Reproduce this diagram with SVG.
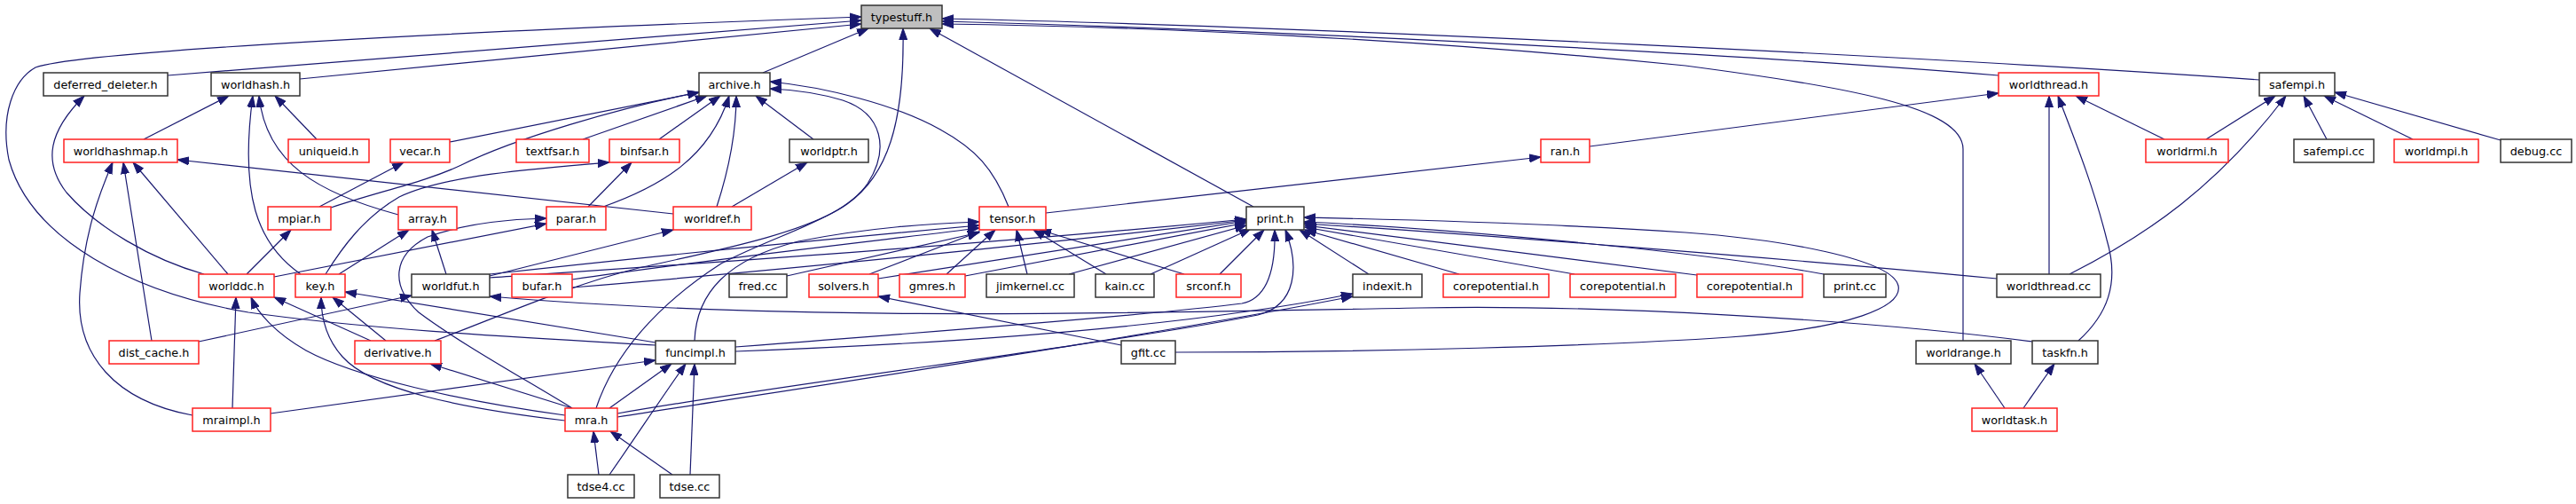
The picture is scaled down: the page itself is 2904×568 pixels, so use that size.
<svg xmlns="http://www.w3.org/2000/svg" width="2904" height="568" viewBox="0 0 2904 568">
<defs>
<marker id="a" markerUnits="userSpaceOnUse" markerWidth="14" markerHeight="10" refX="13" refY="5" orient="auto"><path d="M0,0.5 L13,5 L0,9.5 z" fill="#191970" stroke="#191970" stroke-width="1"/></marker>
<style>
.e path{fill:none;stroke:#191970;stroke-width:1.2;marker-end:url(#a)}
.node rect{fill:#fff;stroke-width:1.5}
.k rect{stroke:#333}
.r rect{stroke:#ff2020}
.g rect{fill:#bfbfbf;stroke:#333}
.node text{font-family:"DejaVu Sans",sans-serif;font-size:12.8px;fill:#000;text-anchor:middle}
</style>
</defs>
<rect width="2904" height="568" fill="#fff"/>
<g id="edges" class="e">
<path d="M189,85 L971,23"/>
<path d="M338,89 L971,27"/>
<path d="M739,389 C600,381 420,372 280,352 C150,330 35,270 10,180 C0,130 15,90 40,76 C90,58 500,36 971,19"/>
<path d="M860,82 L979,32"/>
<path d="M1413,233 L1048,32"/>
<path d="M2547,90 C2200,66 1500,30 1062,21"/>
<path d="M2253,85 C2000,64 1500,36 1062,24"/>
<path d="M2213,384 L2213,168 C2213,120 2080,98 1900,74 C1600,44 1300,30 1062,27"/>
<path d="M490,384 C560,358 640,322 720,302 C810,282 910,262 955,230 C1000,198 1020,140 1018,32"/>
<path d="M672,460 C692,400 740,344 813,297 C880,262 950,247 978,207 C1003,168 995,128 950,113 C920,104 890,101 868,100"/>
<path d="M1137,233 C1120,190 1100,168 1060,146 C1010,118 930,98 868,92"/>
<path d="M657,157 L797,108"/>
<path d="M743,157 L812,108"/>
<path d="M680,233 C745,210 800,178 822,108"/>
<path d="M808,233 C822,190 830,150 830,108"/>
<path d="M917,157 L852,108"/>
<path d="M507,160 L788,104"/>
<path d="M373,234 C430,215 480,205 520,186 C580,156 700,121 788,104"/>
<path d="M367,309 C385,280 410,245 450,222 C500,198 600,190 687,183"/>
<path d="M759,241 L200,180"/>
<path d="M162,157 L258,108"/>
<path d="M339,309 C290,275 270,220 285,108"/>
<path d="M449,242 C360,218 300,185 292,108"/>
<path d="M357,157 L310,108"/>
<path d="M360,233 L455,183"/>
<path d="M278,309 L328,259"/>
<path d="M257,309 L150,183"/>
<path d="M171,384 L139,183"/>
<path d="M217,468 C130,452 85,400 90,330 C95,262 112,218 127,183"/>
<path d="M230,309 C170,292 110,257 75,217 C48,182 55,148 95,108"/>
<path d="M309,312 C400,295 500,275 616,252"/>
<path d="M645,460 C600,432 520,388 472,352 C440,322 442,288 482,267 C530,250 580,247 616,246"/>
<path d="M382,309 L461,259"/>
<path d="M503,309 L487,259"/>
<path d="M552,311 L759,259"/>
<path d="M224,385 L464,333"/>
<path d="M2291,385 C2100,360 1800,343 1600,347 C1300,352 900,364 552,334"/>
<path d="M418,384 L309,335"/>
<path d="M435,384 L375,335"/>
<path d="M262,460 L266,335"/>
<path d="M637,468 C520,452 400,425 345,395 C310,375 290,352 283,335"/>
<path d="M637,474 C520,460 420,440 386,402 C368,382 362,358 362,335"/>
<path d="M739,386 L389,329"/>
<path d="M305,466 L739,406"/>
<path d="M687,460 L757,410"/>
<path d="M687,535 C715,495 748,445 773,410"/>
<path d="M778,535 L783,410"/>
<path d="M675,535 L669,486"/>
<path d="M758,535 L688,486"/>
<path d="M645,460 L485,410"/>
<path d="M829,391 C1000,378 1300,355 1400,342 C1430,336 1438,300 1437,259"/>
<path d="M829,396 C1100,386 1350,366 1525,331"/>
<path d="M696,466 C900,430 1250,388 1418,355 C1462,344 1465,300 1449,259"/>
<path d="M696,470 C950,430 1300,378 1525,334"/>
<path d="M1325,397 C1550,397 1800,390 1950,380 C2090,370 2145,345 2140,322 C2133,292 2010,270 1900,262 C1720,250 1560,247 1470,245"/>
<path d="M1264,389 L990,334"/>
<path d="M1335,309 L1172,259"/>
<path d="M1375,309 L1425,259"/>
<path d="M1247,309 L1165,259"/>
<path d="M1297,309 L1410,258"/>
<path d="M1158,309 L1146,259"/>
<path d="M1205,309 L1405,254"/>
<path d="M1067,309 L1122,259"/>
<path d="M1088,311 L1405,251"/>
<path d="M980,309 L1104,261"/>
<path d="M990,314 L1405,249"/>
<path d="M887,311 L1104,262"/>
<path d="M645,315 C800,292 1000,270 1104,257"/>
<path d="M645,324 C900,303 1200,272 1405,248"/>
<path d="M552,309 C750,287 950,268 1104,254"/>
<path d="M552,313 C800,296 1100,276 1405,247"/>
<path d="M783,384 C785,330 820,292 900,272 C980,256 1050,252 1104,250"/>
<path d="M1645,309 L1471,259"/>
<path d="M1775,309 L1471,256"/>
<path d="M1913,310 L1471,254"/>
<path d="M2056,309 C1900,280 1600,256 1470,250"/>
<path d="M2251,314 C2000,290 1650,263 1470,252"/>
<path d="M1543,309 L1465,259"/>
<path d="M1179,240 L1737,177"/>
<path d="M1792,165 L2253,105"/>
<path d="M2310,309 L2310,108"/>
<path d="M2343,384 C2375,355 2390,320 2375,270 C2360,210 2340,160 2320,108"/>
<path d="M2440,157 L2340,108"/>
<path d="M2487,157 L2565,108"/>
<path d="M2333,309 C2420,265 2500,210 2577,108"/>
<path d="M2623,157 L2597,108"/>
<path d="M2720,157 L2620,108"/>
<path d="M2819,158 L2632,104"/>
<path d="M2260,460 L2226,410"/>
<path d="M2281,460 L2316,410"/>
<path d="M825,233 L910,183"/>
<path d="M663,233 L712,183"/>
</g>
<g id="typestuff_h" class="node g"><rect x="971" y="6" width="91" height="26"/><text x="1016.5" y="24">typestuff.h</text></g>
<g id="deferred_deleter_h" class="node k"><rect x="49" y="82" width="140" height="26"/><text x="119" y="100">deferred_deleter.h</text></g>
<g id="worldhash_h" class="node k"><rect x="238" y="82" width="100" height="26"/><text x="288" y="100">worldhash.h</text></g>
<g id="archive_h" class="node k"><rect x="788" y="82" width="80" height="26"/><text x="828" y="100">archive.h</text></g>
<g id="worldthread_h" class="node r"><rect x="2253" y="82" width="113" height="26"/><text x="2309.5" y="100">worldthread.h</text></g>
<g id="safempi_h" class="node k"><rect x="2547" y="82" width="85" height="26"/><text x="2589.5" y="100">safempi.h</text></g>
<g id="worldhashmap_h" class="node r"><rect x="72" y="157" width="128" height="26"/><text x="136" y="175">worldhashmap.h</text></g>
<g id="uniqueid_h" class="node r"><rect x="325" y="157" width="91" height="26"/><text x="370.5" y="175">uniqueid.h</text></g>
<g id="vecar_h" class="node r"><rect x="440" y="157" width="67" height="26"/><text x="473.5" y="175">vecar.h</text></g>
<g id="textfsar_h" class="node r"><rect x="582" y="157" width="82" height="26"/><text x="623" y="175">textfsar.h</text></g>
<g id="binfsar_h" class="node r"><rect x="687" y="157" width="79" height="26"/><text x="726.5" y="175">binfsar.h</text></g>
<g id="worldptr_h" class="node k"><rect x="890" y="157" width="89" height="26"/><text x="934.5" y="175">worldptr.h</text></g>
<g id="ran_h" class="node r"><rect x="1737" y="157" width="55" height="26"/><text x="1764.5" y="175">ran.h</text></g>
<g id="worldrmi_h" class="node r"><rect x="2419" y="157" width="93" height="26"/><text x="2465.5" y="175">worldrmi.h</text></g>
<g id="safempi_cc" class="node k"><rect x="2586" y="157" width="90" height="26"/><text x="2631" y="175">safempi.cc</text></g>
<g id="worldmpi_h" class="node r"><rect x="2699" y="157" width="95" height="26"/><text x="2746.5" y="175">worldmpi.h</text></g>
<g id="debug_cc" class="node k"><rect x="2819" y="157" width="80" height="26"/><text x="2859" y="175">debug.cc</text></g>
<g id="mpiar_h" class="node r"><rect x="302" y="233" width="71" height="26"/><text x="337.5" y="251">mpiar.h</text></g>
<g id="array_h" class="node r"><rect x="449" y="233" width="66" height="26"/><text x="482" y="251">array.h</text></g>
<g id="parar_h" class="node r"><rect x="616" y="233" width="67" height="26"/><text x="649.5" y="251">parar.h</text></g>
<g id="worldref_h" class="node r"><rect x="759" y="233" width="88" height="26"/><text x="803" y="251">worldref.h</text></g>
<g id="tensor_h" class="node r"><rect x="1104" y="233" width="75" height="26"/><text x="1141.5" y="251">tensor.h</text></g>
<g id="print_h" class="node k"><rect x="1405" y="233" width="65" height="26"/><text x="1437.5" y="251">print.h</text></g>
<g id="worlddc_h" class="node r"><rect x="224" y="309" width="85" height="26"/><text x="266.5" y="327">worlddc.h</text></g>
<g id="key_h" class="node r"><rect x="333" y="309" width="56" height="26"/><text x="361" y="327">key.h</text></g>
<g id="worldfut_h" class="node k"><rect x="464" y="309" width="88" height="26"/><text x="508" y="327">worldfut.h</text></g>
<g id="bufar_h" class="node r"><rect x="577" y="309" width="68" height="26"/><text x="611" y="327">bufar.h</text></g>
<g id="fred_cc" class="node k"><rect x="822" y="309" width="65" height="26"/><text x="854.5" y="327">fred.cc</text></g>
<g id="solvers_h" class="node r"><rect x="912" y="309" width="78" height="26"/><text x="951" y="327">solvers.h</text></g>
<g id="gmres_h" class="node r"><rect x="1014" y="309" width="74" height="26"/><text x="1051" y="327">gmres.h</text></g>
<g id="jimkernel_cc" class="node k"><rect x="1112" y="309" width="99" height="26"/><text x="1161.5" y="327">jimkernel.cc</text></g>
<g id="kain_cc" class="node k"><rect x="1235" y="309" width="66" height="26"/><text x="1268" y="327">kain.cc</text></g>
<g id="srconf_h" class="node r"><rect x="1326" y="309" width="73" height="26"/><text x="1362.5" y="327">srconf.h</text></g>
<g id="indexit_h" class="node k"><rect x="1525" y="309" width="78" height="26"/><text x="1564" y="327">indexit.h</text></g>
<g id="corepotential_h_1" class="node r"><rect x="1627" y="309" width="119" height="26"/><text x="1686.5" y="327">corepotential.h</text></g>
<g id="corepotential_h_2" class="node r"><rect x="1770" y="309" width="119" height="26"/><text x="1829.5" y="327">corepotential.h</text></g>
<g id="corepotential_h_3" class="node r"><rect x="1913" y="309" width="119" height="26"/><text x="1972.5" y="327">corepotential.h</text></g>
<g id="print_cc" class="node k"><rect x="2056" y="309" width="70" height="26"/><text x="2091" y="327">print.cc</text></g>
<g id="worldthread_cc" class="node k"><rect x="2251" y="309" width="117" height="26"/><text x="2309.5" y="327">worldthread.cc</text></g>
<g id="dist_cache_h" class="node r"><rect x="123" y="384" width="101" height="26"/><text x="173.5" y="402">dist_cache.h</text></g>
<g id="derivative_h" class="node r"><rect x="400" y="384" width="97" height="26"/><text x="448.5" y="402">derivative.h</text></g>
<g id="funcimpl_h" class="node k"><rect x="739" y="384" width="90" height="26"/><text x="784" y="402">funcimpl.h</text></g>
<g id="gfit_cc" class="node k"><rect x="1264" y="384" width="61" height="26"/><text x="1294.5" y="402">gfit.cc</text></g>
<g id="worldrange_h" class="node k"><rect x="2160" y="384" width="107" height="26"/><text x="2213.5" y="402">worldrange.h</text></g>
<g id="taskfn_h" class="node k"><rect x="2291" y="384" width="74" height="26"/><text x="2328" y="402">taskfn.h</text></g>
<g id="mraimpl_h" class="node r"><rect x="217" y="460" width="88" height="26"/><text x="261" y="478">mraimpl.h</text></g>
<g id="mra_h" class="node r"><rect x="637" y="460" width="59" height="26"/><text x="666.5" y="478">mra.h</text></g>
<g id="worldtask_h" class="node r"><rect x="2223" y="460" width="96" height="26"/><text x="2271" y="478">worldtask.h</text></g>
<g id="tdse4_cc" class="node k"><rect x="640" y="535" width="75" height="26"/><text x="677.5" y="553">tdse4.cc</text></g>
<g id="tdse_cc" class="node k"><rect x="744" y="535" width="67" height="26"/><text x="777.5" y="553">tdse.cc</text></g>
</svg>
